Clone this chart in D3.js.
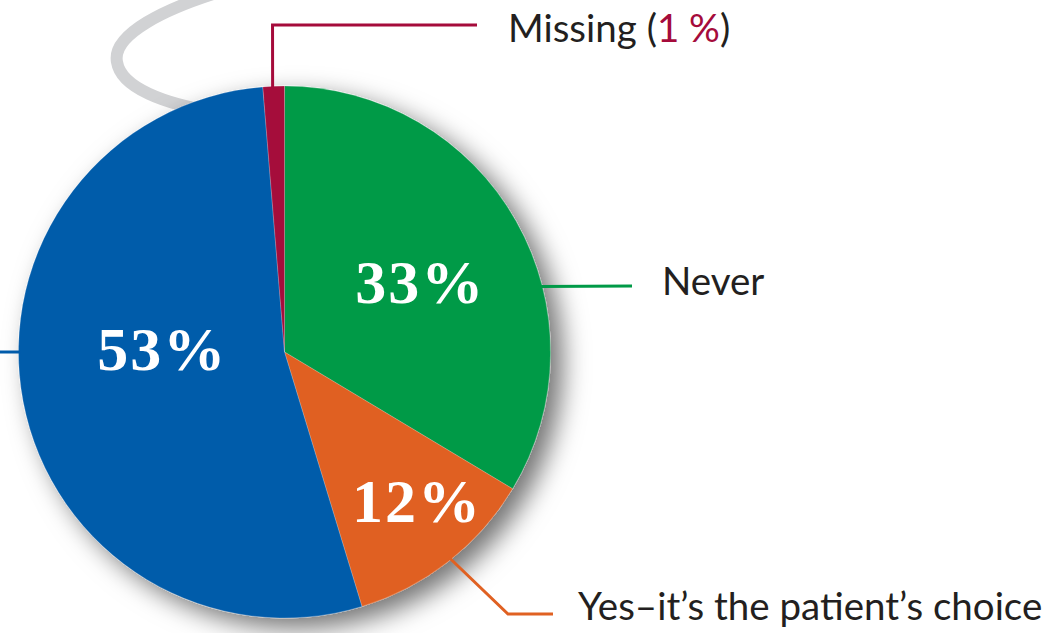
<!DOCTYPE html>
<html>
<head>
<meta charset="utf-8">
<script src="https://cdn.jsdelivr.net/npm/d3@7"></script>
<style>
  html, body { margin: 0; padding: 0; background: #fff; }
  svg { display: block; }
  .label { font-family: Lato, "Open Sans", sans-serif; font-size: 38.5px; fill: #231f20; }
  .pct { font-family: "Liberation Serif", "DejaVu Serif", serif; font-weight: bold; font-size: 62px; fill: #fff; letter-spacing: 2px; }
</style>
</head>
<body>
<div id="chart"></div>
<script>
// slices clockwise from 12 o'clock
var categories = ['Never', 'Yes\u2013it\u2019s the patient\u2019s choice', 'Other', 'Missing'];
var sliceValues = [33.6, 11.7, 53.4, 1.3];
var pctLabels = ['33%', '12%', '53%', '1 %'];
var colors = ['#009a47', '#e06122', '#005baa', '#a50b3b'];

var width = 1055,
  height = 633;
var cx = 284.5,
  cy = 352,
  radius = 266;

var svg = d3.select('#chart').append('svg')
  .attr('width', width)
  .attr('height', height);

var defs = svg.append('defs');
var shadow = defs.append('filter')
  .attr('id', 'shadow')
  .attr('x', '-20%').attr('y', '-20%')
  .attr('width', '150%').attr('height', '150%');
shadow.append('feDropShadow')
  .attr('dx', 12)
  .attr('dy', 10)
  .attr('stdDeviation', 13)
  .attr('flood-color', '#000')
  .attr('flood-opacity', 0.55);

// decorative grey swoosh behind the pie
svg.append('path')
  .attr('d', 'M 240 -14 C 160 8, 112 36, 117 62 C 121 88, 165 104, 215 112')
  .attr('fill', 'none')
  .attr('stroke', '#d1d2d4')
  .attr('stroke-width', 12);

var g = svg.append('g')
  .attr('transform', 'translate(' + cx + ',' + cy + ')');

var pie = d3.pie().sort(null).value(function(d) { return d; });
var arcs = pie(sliceValues);

var arc = d3.arc().innerRadius(0).outerRadius(radius);

g.append('g')
  .attr('filter', 'url(#shadow)')
  .selectAll('path')
  .data(arcs)
  .enter()
  .append('path')
  .attr('d', arc)
  .attr('fill', function(d, i) { return colors[i]; })
  .attr('stroke', 'rgba(255,255,255,0.35)')
  .attr('stroke-width', 0.6);

// percent labels inside slices (angle from 12 o'clock, fraction of radius)
var pctPos = [
  { r: 0.57, a: 1.094 },
  { r: 0.747, a: 2.418 },
  { r: 0.464, a: 4.736 }
];
g.selectAll('.pct')
  .data(arcs.slice(0, 3))
  .enter()
  .append('text')
  .attr('class', 'pct')
  .attr('text-anchor', 'middle')
  .attr('x', function(d, i) { return Math.sin(pctPos[i].a) * radius * pctPos[i].r + 1; })
  .attr('y', function(d, i) { return -Math.cos(pctPos[i].a) * radius * pctPos[i].r + 21; })
  .text(function(d, i) { return pctLabels[i]; });

// leader lines, start angle on the pie edge (radians from 12 o'clock)
var leaderAngle = [1.32, 2.466, 3 * Math.PI / 2, -0.045];
function edge(a, r) {
  return [Math.sin(a) * (r || radius), -Math.cos(a) * (r || radius)];
}

var lineData = [
  [edge(leaderAngle[0], radius - 2), [632 - cx, 286 - cy]],
  [edge(leaderAngle[1], radius - 2), [508 - cx, 614 - cy], [553 - cx, 614 - cy]],
  [edge(leaderAngle[2], radius - 2), [-cx - 2, 0]],
  [edge(leaderAngle[3], radius - 2), [edge(leaderAngle[3])[0], 25 - cy], [477 - cx, 25 - cy]]
];

g.selectAll('.leader')
  .data(lineData)
  .enter()
  .append('path')
  .attr('class', 'leader')
  .attr('d', d3.line())
  .attr('fill', 'none')
  .attr('stroke', function(d, i) { return colors[i]; })
  .attr('stroke-width', 3);

// outside labels
svg.append('text').attr('class', 'label')
  .attr('x', 662).attr('y', 295)
  .text(categories[0]);

svg.append('text').attr('class', 'label')
  .attr('x', 578).attr('y', 620)
  .text(categories[1]);

var miss = svg.append('text').attr('class', 'label')
  .attr('x', 508).attr('y', 42);
miss.append('tspan').text(categories[3] + ' (');
miss.append('tspan').attr('fill', colors[3]).text(pctLabels[3]);
miss.append('tspan').text(')');
</script>
</body>
</html>
